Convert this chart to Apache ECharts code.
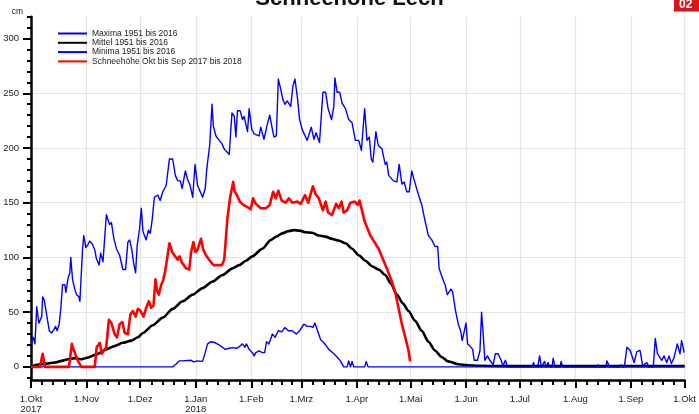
<!DOCTYPE html>
<html>
<head>
<meta charset="utf-8">
<script src="https://cdn.jsdelivr.net/npm/echarts@6/dist/echarts.min.js"></script>
<style>
  html, body { margin: 0; padding: 0; background: #fff; }
  #chart { width: 699px; height: 414px; }
</style>
</head>
<body>
<div id="chart"></div>
<script>
// Snow depth at Lech, season Oct 2017 - Oct 2018, against the 1951-2016 climatology.
// Points are [days since 1 Oct 2017, snow depth in cm].

const tickLabels = ['1.Okt\n2017', '1.Nov', '1.Dez', '1.Jan\n2018', '1.Feb', '1.Mrz', '1.Apr',
                    '1.Mai', '1.Jun', '1.Jul', '1.Aug', '1.Sep', '1.Okt'];
const yTickValues = [0, 50, 100, 150, 200, 250, 300];

const seriesNames = ['Maxima 1951 bis 2016', 'Mittel 1951 bis 2016', 'Minima 1951 bis 2016',
                     'Schneehöhe Okt bis Sep 2017 bis 2018'];

const maximaPts = [
  [0,21],[1.3,27],[2.2,21],[3.2,55],[4.4,40],[6,46],[6.5,64],[7.4,61],[8.7,48],[10.2,33],[11.5,31],
  [12.8,34],[13.7,37],[14.6,33],[15.7,39],[16.7,54],[17.6,75],[18.9,75],[19.5,68],[20.7,81],[21.7,86],
  [22.2,100],[23.2,80],[24.3,72],[25.4,66],[26.7,64],[27.3,60],[28.8,108],[29.5,120],[30.6,109],
  [31.9,112],[32.8,115],[34.3,112],[35.6,107],[36.5,99],[38,93],[38.9,104],[40.2,96],[41.5,126],
  [42.1,139],[43.9,130],[44.9,132],[46.3,117],[47.7,108],[49.5,102],[51.3,89],[52.8,89],[54.1,114],
  [55.1,116],[56.3,107],[57.3,95],[58.4,86],[59.3,111],[60.6,126],[61.6,145],[62.5,124],[64.3,116],
  [65.6,125],[66.6,122],[67.7,135],[68.9,155],[70.8,157],[72.1,152],[73.6,160],[75.5,166],[77.3,190],
  [79.1,190],[80.6,175],[81.9,170],[83.4,170],[84.4,163],[86.2,179],[87.5,171],[88.8,166],[90.3,155],
  [91.6,185],[93,166],[94.5,160],[95.8,155],[97.3,163],[98.1,180],[99.8,203],[101.1,240],[101.8,220],
  [103.3,211],[105.1,207],[106.6,204],[107.9,199],[109.7,196],[110.7,194],[112.2,232],[113.5,229],
  [114.4,210],[115.3,234],[116.8,234],[118.1,226],[119,229],[120.9,215],[121.8,236],[123.3,217],
  [124.6,213],[127.4,211],[128.3,219],[130.1,208],[132,222],[133.3,230],[134.8,217],[135.7,210],
  [137,211],[138.1,263],[139.4,254],[140.7,244],[141.8,240],[143.1,243],[145,238],[146.3,257],
  [147.4,263],[148.7,247],[150,226],[151.4,217],[154.2,207],[156.5,219],[158,208],[159.2,214],
  [161.1,205],[163,251],[164.5,251],[165.9,236],[167.8,226],[169.1,238],[169.7,264],[170.9,251],
  [172.4,251],[173.7,241],[175.6,236],[177.4,226],[179.3,223],[181.1,207],[183,207],[184.5,198],
  [186.3,236],[187.6,207],[188.9,210],[190,190],[190.9,187],[192.6,215],[193.7,204],[194.1,202],
  [196,199],[197.8,185],[198.7,187],[199.7,175],[202.4,170],[204.3,169],[205.6,185],[207.1,167],
  [208.4,169],[209.8,160],[211.2,160],[212.6,179],[214.1,170],[216.4,157],[218.2,148],[220.1,133],
  [221.9,120],[223.8,116],[225.6,110],[227.1,110],[227.9,90],[229.3,83],[231.2,75],[232.5,66],
  [233.6,66],[234.5,71],[235.4,69],[237.1,51],[238.6,39],[239.9,33],[240.8,24],[241.9,24],[242.9,40],
  [243.8,21],[245.1,19],[246.6,16],[247.5,6],[248.4,7],[249.3,6],[250.7,15],[251.6,50],[252.5,30],
  [253.4,6],[254.9,10],[256.2,6],[258.1,2],[259.3,12],[260.8,12],[262.3,7],[263.6,1],[264.9,6],
  [266,0],[280,0],[280.6,4],[281.4,0],[283,0],[284,10],[285,0],[286,0],[286.8,5],[287.6,0],[288.7,4],
  [289.8,0],[291,0],[291.6,8],[292.6,0],[295.5,0],[296,5],[297,0],[316,0],[316.5,2],[317,0],[321,0],
  [321.6,5.5],[323,0],[329,0],[329.4,2],[330,0],[331.3,0],[332.8,18],[334.6,15],[336.8,4],[338.3,14],
  [340.1,15],[341.6,1],[343.8,4],[345,0],[347.5,0],[348.6,26],[349.8,12],[352.2,6],[353.5,10],[355,4],
  [356.3,10],[357.6,3],[359.1,8.5],[360.9,21],[362.4,12],[363.3,24],[364.7,13],[365,13]
];

const mittelPts = [
  [0,0],[3.2,2],[8.7,3],[13.3,4],[17.1,5.5],[20.7,7],[24.5,8],[28.2,7],[31.9,8.5],[36.5,11.5],
  [42.1,16],[46.7,19],[51.3,22],[56,24],[59.7,27],[62.5,31],[68,38],[73.6,45],[79.1,53],[84.7,60],
  [90.3,66],[95.8,72],[101.4,78],[106.9,84],[112.5,90],[116.2,93],[120,97],[123.6,101],[129.2,108],
  [133.9,116],[137,119],[140.3,122],[143.5,124],[146.8,125],[150,124.5],[153.3,123],[157,122.5],
  [160.7,120],[164.4,119],[168.1,117],[171.8,115.5],[175.6,113],[179.3,108],[183,102],[186.7,97],
  [190.4,92],[194.1,89],[197.8,84],[201,76],[204.3,66],[207.6,58],[210.8,51],[214.5,42],[218.2,33],
  [221.9,23],[225.6,15],[229.3,9],[233,5],[238.6,2.4],[244,1.5],[249.7,1],[265,0.7],[365,0.7]
];

const minimaPts = [
  [0,0],[79.1,0],[80.6,2],[82.9,5.5],[84.4,5.5],[89.4,6],[90.8,4.6],[93,5.5],[95.8,5],[97.3,13],
  [98.6,21],[100.5,23],[102.9,22],[105.1,20],[108.5,16],[110.7,17],[112.5,17.6],[114.7,17],[115.9,18],
  [118.1,21],[119.4,18],[120.3,21],[121.8,16],[123.6,13],[124.6,10],[125.5,13],[127.4,14.6],[129.2,13],
  [130.5,13],[131.5,23],[132.9,21],[134.8,30],[136.3,27],[138.1,33],[140,32],[141.8,36],[143.7,33],
  [145.9,33],[148.1,30],[150,33],[152.4,39],[154.2,37],[156.1,37],[157.4,36],[158.5,40],[159.8,34],
  [161.7,25],[164.1,21],[166.3,16],[169.1,12],[170.9,9],[172.8,5.5],[174.6,0],[176.5,0],[177.4,5.5],
  [178.4,0],[179.3,5],[180.2,0],[186.3,0],[187.2,5],[188.2,0],[365,0]
];

const seasonPts = [
  [0,0],[5,0],[6.5,12],[7.8,0],[21.2,0],[22.8,21],[23.5,17],[26.3,5],[28.2,0],[35.6,0],[36.7,18],
  [38.4,22],[39.5,12],[42,18],[43.5,43],[44.9,40],[46.7,30],[48,27],[49.5,39],[51,41],[52.3,31],
  [54.1,30],[55.5,48],[56.9,51],[58.4,46],[59.7,53],[61.2,51],[62.8,46],[64.3,54],[65.8,60],[67.1,54],
  [68.4,56],[69.5,80],[70.5,69],[71.4,66],[72.7,75],[73.6,78],[74.9,87],[76,88],[77.3,113],[78.8,105],
  [80.1,102],[81.9,98],[82.9,101],[84.4,95],[86.6,90],[88.4,89],[89.4,105],[90.7,114],[91.8,105],
  [93,107],[94.9,117],[96.2,107],[97.7,102],[99.9,97],[101.9,93],[104.2,93],[106.6,93],[107.9,98],
  [108.8,117],[109.7,136],[111.2,155],[112.9,169],[113.7,160],[114.7,158],[116.6,151],[118.5,148],
  [120.9,146],[122.7,144],[124,154],[125.5,149],[128.3,145],[131.1,145],[133.3,148],[135.2,160],
  [136.7,154],[138.1,161],[140,152],[142.2,150],[144,154],[145.9,150],[148.7,151],[150.6,149],
  [153,157],[154.8,150],[157.4,165],[158.9,158],[160.7,154],[163,143],[164.5,151],[165.9,141],
  [168.1,139],[170.4,149],[171.9,145],[173.4,151],[174.6,141],[176.5,143],[178.4,150],[180.8,151],
  [182.4,148],[183.5,152],[184.8,143],[186.3,133],[189.5,120],[194.1,108],[198.7,90],[201.5,78],
  [203.4,68],[205.2,54],[207.1,39],[209,27],[210.8,15],[211.7,5]
];

const FONT = '"Liberation Sans", Arial, Helvetica, sans-serif';
const DAY = 86400000;
const T0 = Date.UTC(2017, 9, 1);

// Month starts (in days since 1 Oct 2017) carry the labelled ticks;
// each month is split into five for the minor ticks.
const monthTicks = tickLabels.map((_, i) => Math.round((Date.UTC(2017, 9 + i, 1) - T0) / DAY));
const minorXTicks = [];
for (let i = 0; i < monthTicks.length - 1; i++) {
  const step = (monthTicks[i + 1] - monthTicks[i]) / 5;
  for (let k = 1; k < 5; k++) minorXTicks.push(monthTicks[i] + k * step);
}
const minorYTicks = [];
for (let v = -10; v <= 320; v += 10) if (v % 50 !== 0) minorYTicks.push(v);

const chart = echarts.init(document.getElementById('chart'), null, { renderer: 'canvas' });

const lineSeries = (name, pts, color, width, z, extra) => Object.assign({
  name, type: 'line', data: pts, xAxisIndex: 0, yAxisIndex: 0,
  symbol: 'none', showSymbol: false, z,
  lineStyle: { color, width, join: 'round' }, itemStyle: { color },
  emphasis: { disabled: true }
}, extra || {});

const xMin = monthTicks[0], xMax = monthTicks[monthTicks.length - 1];

chart.setOption({
  animation: false,
  backgroundColor: '#fff',
  title: {
    text: 'Schneehöhe Lech', left: 'center', top: -17,
    textStyle: { fontFamily: FONT, fontSize: 22, fontWeight: 'bold', color: '#111' }
  },
  legend: {
    orient: 'vertical', left: 57, top: 29, padding: 0,
    itemWidth: 29, itemHeight: 8, itemGap: 0.3,
    data: seriesNames,
    itemStyle: { opacity: 0 },
    textStyle: { fontFamily: FONT, fontSize: 8.5, lineHeight: 8.3, color: '#222' },
    selectedMode: false
  },
  grid: { left: 31, right: 12, top: 16.7, bottom: 31.4, containLabel: false },
  xAxis: [{
    type: 'value', min: xMin, max: xMax, position: 'bottom',
    axisLine: { show: true, onZero: false, lineStyle: { color: '#000', width: 2.5 } },
    axisTick: { show: true, length: 8, customValues: monthTicks, lineStyle: { color: '#000', width: 2 } },
    axisLabel: {
      customValues: monthTicks, margin: 14, fontFamily: FONT, fontSize: 9.5, lineHeight: 10,
      color: '#222', hideOverlap: false,
      formatter: v => { const i = monthTicks.indexOf(v); return i >= 0 ? tickLabels[i] : ''; }
    },
    splitLine: { show: true, showMinLine: false, lineStyle: { color: '#e3e3e3', width: 1.2 } }
  }, {
    type: 'value', min: xMin, max: xMax, position: 'bottom',
    axisLine: { show: false, onZero: false },
    axisTick: { show: true, length: 5, customValues: minorXTicks, lineStyle: { color: '#000', width: 2 } },
    axisLabel: { show: false },
    splitLine: { show: false }
  }],
  yAxis: [{
    type: 'value', min: -12, max: 320, position: 'left',
    name: 'cm', nameLocation: 'end', nameGap: 1,
    nameTextStyle: { fontFamily: FONT, fontSize: 8.5, color: '#222', align: 'right', verticalAlign: 'bottom', padding: [0, 8, 0, 0] },
    axisLine: { show: true, onZero: false, lineStyle: { color: '#000', width: 2.5 } },
    axisTick: { show: true, length: 8, customValues: yTickValues, lineStyle: { color: '#000', width: 2 } },
    axisLabel: { customValues: yTickValues, margin: 12, fontFamily: FONT, fontSize: 9.5, color: '#222' },
    splitLine: { show: true, showMinLine: false, showMaxLine: false, lineStyle: { color: '#e3e3e3', width: 1.2 } }
  }, {
    type: 'value', min: -12, max: 320, position: 'left',
    axisLine: { show: false, onZero: false },
    axisTick: { show: true, length: 4, customValues: minorYTicks, lineStyle: { color: '#000', width: 2 } },
    axisLabel: { show: false },
    splitLine: { show: false }
  }],
  graphic: [{
    type: 'rect', right: 0, top: -5, shape: { width: 25, height: 16.5 },
    style: { fill: '#d8141c' }, z: 10
  }, {
    type: 'text', left: 679, top: -1,
    style: { text: '02', fill: '#fff', font: 'bold 12px ' + FONT }, z: 11
  }],
  series: [
    lineSeries(seriesNames[0], maximaPts, '#0000ff', 1.4, 2),
    lineSeries(seriesNames[1], mittelPts, '#000000', 2.6, 3, { smooth: 0.25, smoothMonotone: 'x' }),
    lineSeries(seriesNames[2], minimaPts, '#0000ff', 1.4, 4),
    lineSeries(seriesNames[3], seasonPts, '#ff0000', 2.6, 5)
  ]
});
</script>
</body>
</html>
